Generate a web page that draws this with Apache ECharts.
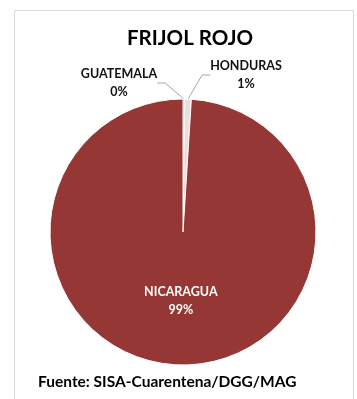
<!DOCTYPE html>
<html><head><meta charset="utf-8">
<script src="https://cdn.jsdelivr.net/npm/echarts@6/dist/echarts.min.js"></script>
<style>html,body{margin:0;padding:0;background:#fff}#c{width:357px;height:399px}</style>
</head><body><div id="c"></div>
<script>
var title = 'FRIJOL ROJO';
var source = 'Fuente: SISA-Cuarentena/DGG/MAG';
var categories = ['GUATEMALA', 'HONDURAS', 'NICARAGUA'];
var values = [0.2, 0.8, 99.0];
var colors = ['#c0504d', '#f2dcdb', '#953735'];
var FONT = 'Lato';
var chart = echarts.init(document.getElementById('c'));
var labelPos = [
  {x: 119, y: 83, align: 'center'},
  {x: 246, y: 75, align: 'center'},
  null
];
chart.setOption({
  animation: false,
  title: {text: title, left: 185, textAlign: 'center', top: 23, textStyle: {fontFamily: FONT, fontWeight: 'bold', fontSize: 20.5, color: '#000'}},
  graphic: [
    {type: 'rect', shape: {x: 14.5, y: 10.5, width: 339, height: 400}, style: {fill: 'none', stroke: '#d9d9d9', lineWidth: 1}, silent: true},
    {type: 'text', left: 38, top: 374, style: {text: source, font: 'bold 15.5px ' + FONT, fill: '#000'}}
  ],
  series: [{
    type: 'pie',
    center: [183, 232],
    radius: [0, 133],
    startAngle: 90,
    clockwise: true,
    minAngle: 0,
    avoidLabelOverlap: false,
    itemStyle: {borderColor: '#fff', borderWidth: 1},
    data: categories.map(function (c, i) {
      var d = {name: c, value: values[i], itemStyle: {color: colors[i]}};
      if (i === 2) {
        d.label = {position: 'inner', color: '#fff'};
        d.labelLine = {show: false};
      }
      return d;
    }),
    label: {
      show: true,
      position: 'outside',
      fontFamily: FONT, fontWeight: 'bold', fontSize: 12.5, lineHeight: 18, color: '#111',
      formatter: function (p) { return p.name + '\n' + Math.round(p.percent) + '%'; }
    },
    labelLine: {show: true, length: 10, length2: 8, lineStyle: {color: '#a6a6a6', width: 1}},
    labelLayout: function (p) {
      var lp = labelPos[p.dataIndex];
      if (!lp) return {};
      return {x: lp.x, y: lp.y, align: lp.align, verticalAlign: 'middle'};
    }
  }]
});
</script></body></html>
